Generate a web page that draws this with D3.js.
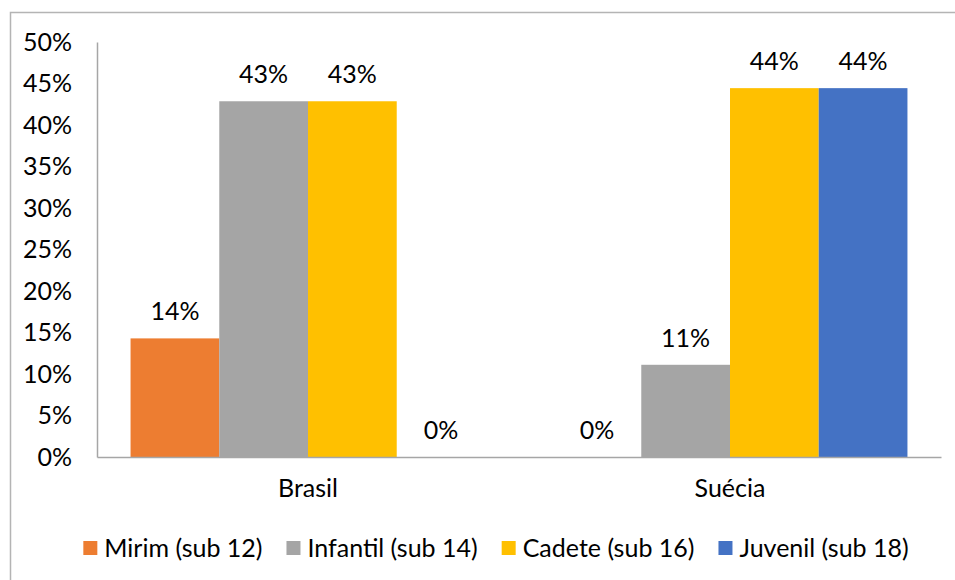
<!DOCTYPE html>
<html>
<head>
<meta charset="utf-8">
<script src="https://cdn.jsdelivr.net/npm/d3@7"></script>
<style>
  body { margin: 0; background: #fff; }
  svg { display: block; font-family: Lato, "Open Sans", sans-serif; }
  text { fill: #000; }
</style>
</head>
<body>
<svg width="955" height="580"></svg>
<script>
// data
var categories = ["Brasil", "Suécia"];
var seriesNames = ["Mirim (sub 12)", "Infantil (sub 14)", "Cadete (sub 16)", "Juvenil (sub 18)"];
var mirim    = [0.1429, 0];
var infantil = [0.4286, 0.1111];
var cadete   = [0.4286, 0.4444];
var juvenil  = [0, 0.4444];
var yTicks = [0, 0.05, 0.10, 0.15, 0.20, 0.25, 0.30, 0.35, 0.40, 0.45, 0.50];
var colours = ["#ED7D31", "#A5A5A5", "#FFC000", "#4472C4"];

var seriesValues = [mirim, infantil, cadete, juvenil];

var svg = d3.select("svg"),
  margin = { top: 42, left: 97 },
  width = 844,
  height = 415,
  fontSize = 25;

// outer frame (right and bottom edges fall outside the picture)
svg.append("rect")
  .attr("x", 10.5).attr("y", 12.5)
  .attr("width", 1000).attr("height", 1000)
  .attr("fill", "none")
  .attr("stroke", "#B4B4B4")
  .attr("stroke-width", 1.5);

var g = svg.append("g")
  .attr("transform", "translate(" + margin.left + "," + margin.top + ")");

var x0 = d3.scaleBand().domain(categories).range([0, width]).padding(0);
var x1 = d3.scaleBand().domain(seriesNames)
  .range([x0.bandwidth() * 0.0795, x0.bandwidth() * (1 - 0.0795)]).padding(0);
var y = d3.scaleLinear().domain([0, 0.5]).range([height, 0]);

var fmt = function(d) { return Math.round(d * 100) + "%"; };

// bars
var groups = g.selectAll(".grp")
  .data(categories)
  .enter().append("g")
  .attr("class", "grp")
  .attr("transform", function(d) { return "translate(" + x0(d) + ",0)"; });

groups.each(function(cat, ci) {
  var rows = seriesNames.map(function(s, si) {
    return { name: s, value: seriesValues[si][ci], colour: colours[si] };
  });
  var grp = d3.select(this);
  grp.selectAll("rect")
    .data(rows)
    .enter().append("rect")
    .attr("x", function(d) { return x1(d.name); })
    .attr("y", function(d) { return y(d.value); })
    .attr("width", x1.bandwidth())
    .attr("height", function(d) { return height - y(d.value); })
    .attr("fill", function(d) { return d.colour; });
  grp.selectAll("text")
    .data(rows)
    .enter().append("text")
    .attr("x", function(d) { return x1(d.name) + x1.bandwidth() / 2; })
    .attr("y", function(d) { return y(d.value) - 18; })
    .attr("text-anchor", "middle")
    .attr("font-size", fontSize)
    .text(function(d) { return fmt(d.value); });
});

// y axis
var yAxis = g.append("g")
  .call(d3.axisLeft(y).tickValues(yTicks).tickFormat(fmt).tickSize(0).tickPadding(25))
  .attr("font-family", null).attr("font-size", fontSize);
yAxis.select(".domain").attr("stroke", "#A6A6A6").attr("stroke-width", 1.5);
yAxis.selectAll("text").attr("fill", "#000");

// x axis
var xAxis = g.append("g")
  .attr("transform", "translate(0," + height + ")")
  .call(d3.axisBottom(x0).tickSize(0).tickPadding(22))
  .attr("font-family", null).attr("font-size", fontSize);
xAxis.select(".domain").attr("stroke", "#A6A6A6").attr("stroke-width", 1.5);
xAxis.selectAll("text").attr("fill", "#000");

// legend
var legend = svg.append("g");
var items = legend.selectAll(".item")
  .data(seriesNames)
  .enter().append("g")
  .attr("class", "item");
items.append("rect")
  .attr("width", 14).attr("height", 14)
  .attr("y", -7)
  .attr("fill", function(d, i) { return colours[i]; });
items.append("text")
  .attr("x", 21)
  .attr("dy", "0.35em")
  .attr("font-size", fontSize)
  .text(function(d) { return d; });

var pos = 0;
items.each(function() {
  var w = 21 + this.querySelector("text").getComputedTextLength();
  d3.select(this).attr("transform", "translate(" + pos + ",0)");
  pos += w + 24;
});
var total = pos - 24;
legend.attr("transform", "translate(" + (496 - total / 2) + ",548)");
</script>
</body>
</html>
